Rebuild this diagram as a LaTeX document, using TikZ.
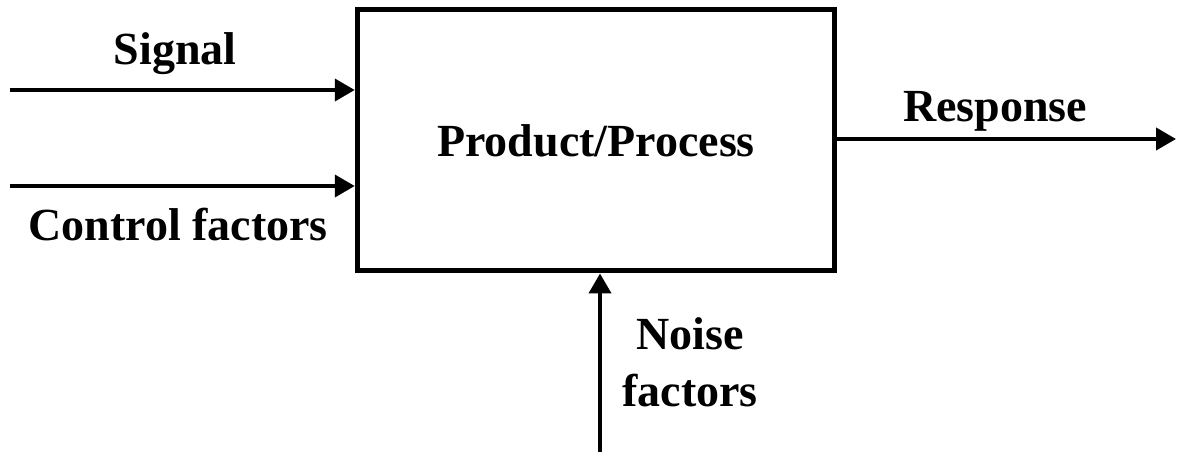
\documentclass[tikz,border=0pt]{standalone}
\usepackage{fontspec}
\setmainfont{Liberation Serif}
\usetikzlibrary{arrows.meta}
\begin{document}
\begin{tikzpicture}
  [x=0.5pt,y=-0.5pt,
   every node/.style={font=\fontsize{23}{27}\selectfont\bfseries},
   flow/.style={line width=2pt,-{Triangle[length=10pt,width=11pt]}}]
  \useasboundingbox (0,0) rectangle (1177,453);

  \node[draw,line width=2.5pt,text depth=0pt,minimum width=238.75pt,minimum height=130.5pt] (box) at (596,140.5) {Product/Process};

  \coordinate (sig) at (10,90);
  \coordinate (ctl) at (10,186);
  \coordinate (resp) at (1176,139);
  \coordinate (noise) at (600,452);

  \node (signal) at (175,54) {Signal};
  \node (control) at (178,225) {Control factors};
  \node (response) at (995,111) {Response};
  \node[align=center,font=\fontsize{23}{28.5}\selectfont\bfseries] (noisetxt) at (690,362) {Noise\\factors};

  \foreach \from in {sig,ctl}
    \draw[flow] (\from) -- (\from -| box.west);
  \draw[flow] (box.east |- resp) -- (resp);
  \draw[flow] (noise) -- (noise |- box.south);

\end{tikzpicture}
\end{document}
